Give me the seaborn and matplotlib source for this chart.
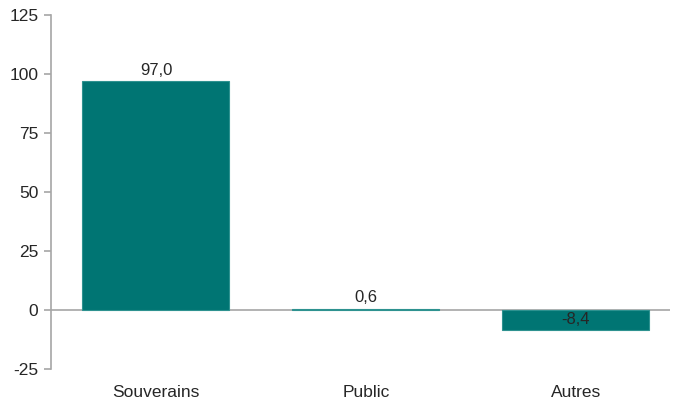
import pandas as pd
import matplotlib.pyplot as plt
import seaborn as sns

categories = ["Souverains", "Public", "Autres"]
values = [97.0, 0.6, -8.4]
value_labels = ["97,0", "0,6", "-8,4"]

df = pd.DataFrame({"cat": categories, "val": values})

sns.set_style("white")
plt.rcParams["font.family"] = ["Liberation Sans", "DejaVu Sans"]
plt.rcParams["axes.unicode_minus"] = False

fig = plt.figure(figsize=(6.77, 4.01), dpi=100)
ax = fig.add_axes([0.0753, 0.0798, 0.915, 0.8828])

teal = "#007573"
ax.axhline(0, color="#A6A6A6", lw=1.2, zorder=1)
sns.barplot(data=df, x="cat", y="val", color=teal, saturation=1, width=0.7,
            edgecolor="#2E9290", linewidth=0.8, ax=ax, zorder=2)

for i, (v, lab) in enumerate(zip(values, value_labels)):
    if v < 0:
        ax.text(i, v / 2, lab, ha="center", va="center", fontsize=12, color="#262626", zorder=3)
    else:
        ax.text(i, v + 1.5, lab, ha="center", va="bottom", fontsize=12, color="#262626", zorder=3)

ax.set_ylim(-25, 125)
ax.set_yticks([-25, 0, 25, 50, 75, 100, 125])
ax.set_xlim(-0.5, 2.45)
ax.set_xlabel("")
ax.set_ylabel("")

for s in ["top", "right", "bottom"]:
    ax.spines[s].set_visible(False)
ax.spines["left"].set_color("#A6A6A6")
ax.spines["left"].set_linewidth(1.2)

ax.tick_params(axis="y", left=True, length=5, width=1.2, color="#A6A6A6",
               labelsize=12.5, labelcolor="#262626", pad=4)
ax.tick_params(axis="x", bottom=False, labelsize=12.5, labelcolor="#262626", pad=8)

fig.savefig("out.png", dpi=100)
